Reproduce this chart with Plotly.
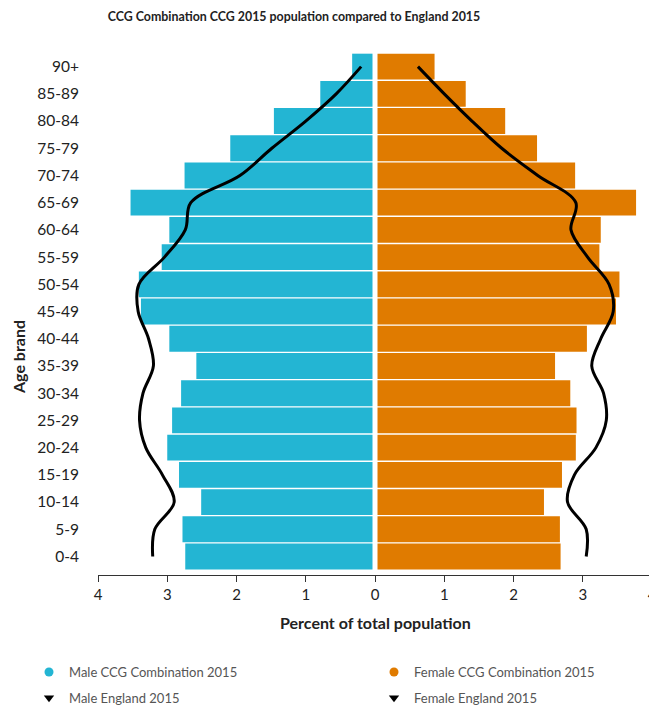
import plotly.graph_objects as go

ages = ["0-4", "5-9", "10-14", "15-19", "20-24", "25-29", "30-34", "35-39", "40-44",
        "45-49", "50-54", "55-59", "60-64", "65-69", "70-74", "75-79", "80-84", "85-89", "90+"]
male_ccg = [2.74, 2.78, 2.51, 2.83, 3.00, 2.93, 2.80, 2.58, 2.97, 3.38,
            3.41, 3.08, 2.97, 3.53, 2.75, 2.09, 1.46, 0.79, 0.33]
female_ccg = [2.68, 2.67, 2.44, 2.70, 2.90, 2.91, 2.82, 2.60, 3.06, 3.48,
              3.53, 3.24, 3.26, 3.77, 2.89, 2.34, 1.88, 1.31, 0.86]
male_eng = [3.21, 3.18, 2.90, 3.07, 3.31, 3.40, 3.35, 3.20, 3.27, 3.42,
            3.41, 3.04, 2.74, 2.66, 1.95, 1.49, 1.00, 0.56, 0.20]
female_eng = [3.05, 3.05, 2.78, 2.88, 3.19, 3.34, 3.30, 3.13, 3.26, 3.44,
              3.38, 3.07, 2.83, 2.90, 2.35, 1.83, 1.40, 1.00, 0.62]
tick_vals = [-4, -3, -2, -1, 0, 1, 2, 3, 4]
tick_text = ["4", "3", "2", "1", "0", "1", "2", "3", "4"]

CYAN = "#23b5d3"
ORANGE = "#e07b00"
FONT = "Lato"

W, H = 649, 698  # page body has an 8px margin

fig = go.Figure()
fig.add_trace(go.Bar(y=ages, x=[-v for v in male_ccg], orientation="h",
                     marker=dict(color=CYAN, line=dict(width=0)),
                     name="Male CCG Combination 2015", showlegend=False))
fig.add_trace(go.Bar(y=ages, x=female_ccg, orientation="h",
                     marker=dict(color=ORANGE, line=dict(width=0)),
                     name="Female CCG Combination 2015", showlegend=False))
fig.add_trace(go.Scatter(y=ages, x=[-v for v in male_eng], mode="lines",
                         line=dict(color="black", width=3, shape="spline", smoothing=1),
                         name="Male England 2015", showlegend=False))
fig.add_trace(go.Scatter(y=ages, x=female_eng, mode="lines",
                         line=dict(color="black", width=3, shape="spline", smoothing=1),
                         name="Female England 2015", showlegend=False))

# legend entries (two columns -> two legends)
for name, col, sym, leg in [("Male CCG Combination 2015", CYAN, "circle", "legend"),
                            ("Male England 2015", "black", "triangle-down", "legend"),
                            ("Female CCG Combination 2015", ORANGE, "circle", "legend2"),
                            ("Female England 2015", "black", "triangle-down", "legend2")]:
    fig.add_trace(go.Scatter(x=[None], y=[None], mode="markers", name=name,
                             legend=leg, legendgroup=name,
                             marker=dict(color=col, size=9, symbol=sym)))

leg_common = dict(orientation="v", xanchor="left", xref="container",
                  yanchor="top", yref="container", y=1 - 649 / H,
                  tracegroupgap=6, traceorder="grouped",
                  font=dict(family=FONT, size=13, color="#555"),
                  bgcolor="rgba(0,0,0,0)")

fig.update_layout(
    width=W, height=H,
    margin=dict(l=90, r=5, t=45, b=131, autoexpand=False),
    plot_bgcolor="white", paper_bgcolor="white",
    barmode="overlay", bargap=0.05,
    font=dict(family=FONT, size=13, color="#333"),
    title=dict(text="<b>CCG Combination CCG 2015 population compared to England 2015</b>",
               x=286 / W, xanchor="center", xref="container",
               y=1 - 9 / H, yanchor="middle", yref="container",
               font=dict(family=FONT, size=12.4, color="#222")),
    xaxis=dict(range=[-4, 4], tickvals=tick_vals, ticktext=tick_text,
               showgrid=False, zeroline=False, showline=True, linecolor="#333",
               linewidth=1, ticks="outside", ticklen=6, tickcolor="#333",
               tickfont=dict(size=15, color="#222"), automargin=False),
    yaxis=dict(categoryorder="array", categoryarray=ages, range=[-0.68, 18.5],
               showgrid=False, zeroline=False, showline=False, ticks="",
               ticklabelstandoff=18, tickfont=dict(size=15.5, color="#222"),
               automargin=False),
    legend=dict(x=21 / W, **leg_common),
    legend2=dict(x=366 / W, **leg_common),
    shapes=[dict(type="line", xref="x", yref="paper", x0=0, x1=0, y0=0, y1=1,
                 line=dict(color="white", width=5), layer="above")],
    annotations=[
        dict(text="<b>Percent of total population</b>", xref="x", yref="paper",
             x=0, y=(575 - 623) / 522, xanchor="center", yanchor="middle",
             showarrow=False, font=dict(size=16, color="#222")),
        dict(text="<b>Age brand</b>", xref="paper", yref="paper",
             x=(18 - 98) / 554, y=(575 - 357) / 522, textangle=-90,
             xanchor="center", yanchor="middle", showarrow=False,
             font=dict(size=16, color="#222")),
    ],
)

fig.write_html("out.html")
